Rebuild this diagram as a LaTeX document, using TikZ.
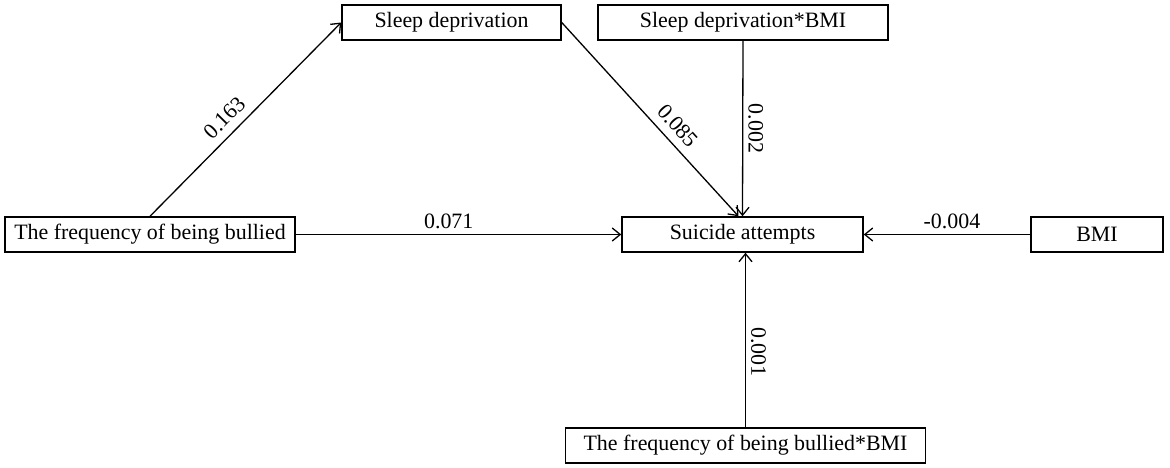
\documentclass[tikz,border=0pt]{standalone}
\usepackage{fontspec}
\setmainfont{Liberation Serif}
\usetikzlibrary{arrows.meta}
\begin{document}
\begin{tikzpicture}[x=1bp, y=-1bp, line width=1.3bp,
    every node/.style={font=\fontsize{22}{26}\selectfont},
    var/.style={draw, line width=1.5bp, inner sep=0pt, minimum height=35bp},
    effect/.style={-{Straight Barb[length=8bp, width=13bp]}},
    coef/.style={inner sep=5bp}]
    \useasboundingbox (0, 0) rectangle (1170, 468);
%
    \node[var, minimum width=290bp] (bullied) at (150, 234.5) {The frequency of being bullied};
    \node[var, minimum width=219bp] (sleep) at (451.5, 22.5) {Sleep deprivation};
    \node[var, minimum width=290bp] (sleepbmi) at (743, 22.5) {Sleep deprivation*BMI};
    \node[var, minimum width=241bp] (suicide) at (742.5, 234.5) {Suicide attempts};
    \node[var, minimum width=132bp] (bmi) at (1097, 234.5) {BMI};
    \node[var, minimum width=360bp] (bulliedbmi) at (745.5, 445.5) {The frequency of being bullied*BMI};
%
    \draw[effect] (bullied.north) -- node[coef, pos=0.45, sloped, above=3bp] {0.163} (sleep.west);
    \draw[effect] (sleep.east) -- node[coef, pos=0.59, sloped, above=3bp] {0.085} ([xshift=-4bp]suicide.north);
    \draw[effect] (sleepbmi.south) -- node[coef, midway, rotate=-90, anchor=south] {0.002} (suicide.north);
    \draw[effect] (bullied.east) -- node[coef, pos=0.47, above] {0.071} (suicide.west);
    \draw[effect] (bmi.west) -- node[coef, pos=0.47, above] {-0.004} (suicide.east);
    \draw[effect] (bulliedbmi.north) -- node[coef, pos=0.43, rotate=-90, anchor=south] {0.001} (bulliedbmi.north |- suicide.south);
\end{tikzpicture}
\end{document}
